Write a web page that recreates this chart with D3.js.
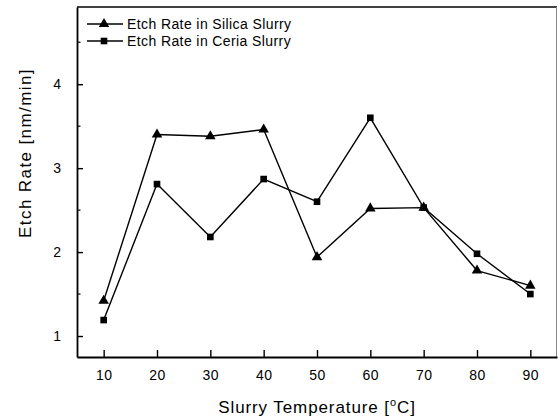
<!DOCTYPE html>
<html>
<head>
<meta charset="utf-8">
<script src="https://cdn.jsdelivr.net/npm/d3@7"></script>
<style>
  html, body { margin: 0; padding: 0; background: #fff; }
  svg { display: block; }
  text { font-family: "Liberation Sans", Arial, Helvetica, sans-serif; fill: #000; }
</style>
</head>
<body>
<svg id="chart" width="558" height="418"></svg>
<script>
// Slurry temperature (°C) and measured etch rates (nm/min)
const temperatures = [10, 20, 30, 40, 50, 60, 70, 80, 90];
const silicaRate = [1.42, 3.40, 3.38, 3.46, 1.94, 2.52, 2.53, 1.78, 1.60];
const ceriaRate  = [1.19, 2.81, 2.18, 2.87, 2.60, 3.60, 2.53, 1.98, 1.50];
const xTicks = [10, 20, 30, 40, 50, 60, 70, 80, 90];
const yTicks = [1, 2, 3, 4];
const yMinorTicks = [1.5, 2.5, 3.5, 4.5];
const seriesNames = ["Etch Rate in Silica Slurry", "Etch Rate in Ceria Slurry"];

const svg = d3.select("#chart");
const plotL = 77, plotR = 557, plotT = 7, plotB = 357;

const x = d3.scaleLinear().domain([5, 95]).range([plotL, plotR]);
const y = d3.scaleLinear().domain([0.75, 4.92]).range([plotB, plotT]);

// Frame: top and right edges
svg.append("line").attr("x1", plotL).attr("x2", plotR).attr("y1", plotT).attr("y2", plotT)
  .attr("stroke", "#000").attr("stroke-width", 1.6);
svg.append("line").attr("x1", plotR - 0.5).attr("x2", plotR - 0.5).attr("y1", plotT).attr("y2", plotB)
  .attr("stroke", "#888").attr("stroke-width", 1);

// Bottom axis, ticks pointing into the plot
const xAxis = svg.append("g").attr("transform", `translate(0,${plotB})`)
  .call(d3.axisBottom(x).tickValues(xTicks).tickFormat(d3.format("d"))
    .tickSizeInner(-7).tickSizeOuter(0).tickPadding(13));
xAxis.select(".domain").attr("stroke-width", 1.8);
xAxis.selectAll(".tick line").attr("stroke-width", 1.4);
xAxis.selectAll(".tick text").attr("font-size", 14).attr("font-family", "Liberation Sans, Arial, sans-serif")
  .attr("letter-spacing", 0.5);

// Left axis, ticks pointing into the plot
const yAxis = svg.append("g").attr("transform", `translate(${plotL},0)`)
  .call(d3.axisLeft(y).tickValues(yTicks).tickFormat(d3.format("d"))
    .tickSizeInner(-6).tickSizeOuter(0).tickPadding(16));
yAxis.select(".domain").attr("stroke-width", 1.8);
yAxis.selectAll(".tick line").attr("stroke-width", 1.4);
yAxis.selectAll(".tick text").attr("font-size", 14).attr("font-family", "Liberation Sans, Arial, sans-serif");

svg.append("g").selectAll("line").data(yMinorTicks).join("line")
  .attr("x1", plotL).attr("x2", plotL + 3.5)
  .attr("y1", d => y(d)).attr("y2", d => y(d))
  .attr("stroke", "#000").attr("stroke-width", 1.2);

// Axis titles
const xTitle = svg.append("text").attr("x", (plotL + plotR) / 2).attr("y", 413)
  .attr("text-anchor", "middle").attr("font-size", 17).attr("letter-spacing", 0.9);
xTitle.append("tspan").text("Slurry Temperature [");
xTitle.append("tspan").attr("font-size", 11).attr("dy", -7).text("o");
xTitle.append("tspan").attr("dy", 7).text("C]");

svg.append("text").attr("transform", "translate(31,153) rotate(-90)")
  .attr("text-anchor", "middle").attr("font-size", 17).attr("letter-spacing", 1.4)
  .text("Etch Rate [nm/min]");

// Series
const line = d3.line().x(d => x(d[0])).y(d => y(d[1]));
const silicaPts = temperatures.map((t, i) => [t, silicaRate[i]]);
const ceriaPts = temperatures.map((t, i) => [t, ceriaRate[i]]);

[silicaPts, ceriaPts].forEach(pts => {
  svg.append("path").datum(pts).attr("d", line)
    .attr("fill", "none").attr("stroke", "#000").attr("stroke-width", 1.4);
});

const tri = d3.symbol().type(d3.symbolTriangle).size(48);
const sq = d3.symbol().type(d3.symbolSquare).size(44);

svg.append("g").selectAll("path").data(silicaPts).join("path")
  .attr("d", tri).attr("transform", d => `translate(${x(d[0])},${y(d[1])})`).attr("fill", "#000");
svg.append("g").selectAll("path").data(ceriaPts).join("path")
  .attr("d", sq).attr("transform", d => `translate(${x(d[0])},${y(d[1])})`).attr("fill", "#000");

// Legend
const legendRows = [
  { name: seriesNames[0], sym: tri, y: 24 },
  { name: seriesNames[1], sym: sq, y: 41 }
];
const lg = svg.append("g");
legendRows.forEach(r => {
  lg.append("line").attr("x1", 87).attr("x2", 123).attr("y1", r.y).attr("y2", r.y)
    .attr("stroke", "#000").attr("stroke-width", 1.4);
  lg.append("path").attr("d", r.sym).attr("transform", `translate(104,${r.y})`).attr("fill", "#000");
  lg.append("text").attr("x", 127).attr("y", r.y + 5).attr("font-size", 14).attr("letter-spacing", 0.4)
    .text(r.name);
});
</script>
</body>
</html>
